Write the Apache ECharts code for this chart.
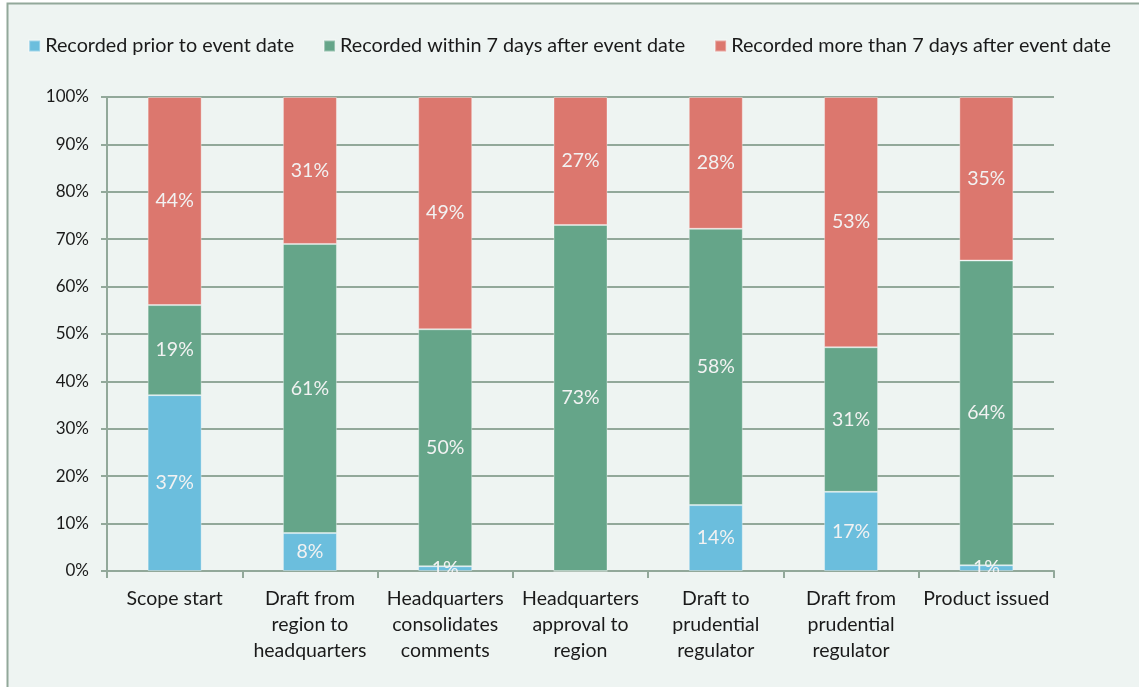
<!DOCTYPE html>
<html>
<head>
<meta charset="utf-8">
<script src="https://cdn.jsdelivr.net/npm/echarts@6/dist/echarts.min.js"></script>
<style>html,body{margin:0;padding:0;background:#ffffff;}#c{width:1139px;height:687px;}</style>
</head>
<body>
<div id="c"></div>
<script>
const categories = ['Scope start','Draft from region to headquarters','Headquarters consolidates comments','Headquarters approval to region','Draft to prudential regulator','Draft from prudential regulator','Product issued'];
const tickLabels = ['Scope start','Draft from\nregion to\nheadquarters','Headquarters\nconsolidates\ncomments','Headquarters\napproval to\nregion','Draft to\nprudential\nregulator','Draft from\nprudential\nregulator','Product issued'];
const seriesNames = ['Recorded prior to event date','Recorded within 7 days after event date','Recorded more than 7 days after event date'];
const priorValues = [37.1, 8.0, 1.0, 0, 13.9, 16.7, 1.2];
const within7Values = [19.0, 61.0, 50.0, 73.0, 58.3, 30.5, 64.3];
const moreThan7Values = [43.9, 31.0, 49.0, 27.0, 27.8, 52.8, 34.5];

const FONT = 'Lato';
const colors = ['#6bbedd','#65a589','#dc776e'];
const chart = echarts.init(document.getElementById('c'));
function mkSeries(name, data, color){
  return {
    name, type:'bar', stack:'total', data, barWidth:54,
    itemStyle:{color, borderColor:'rgba(255,255,255,0.35)', borderWidth:1},
    label:{show:true, position:'inside', color:'#f2f2f2', fontFamily:FONT, fontSize:19.5,
      formatter:p => p.value > 0 ? Math.round(p.value) + '%' : ''},
    emphasis:{disabled:true}
  };
}
chart.setOption({
  animation:false,
  backgroundColor:'#ffffff',
  graphic:[{type:'rect', z:-10, shape:{x:7.5,y:3.5,width:1200,height:720},
    style:{fill:'#eef4f2', stroke:'#92a89a', lineWidth:2}}],
  legend:{top:31, left:'center', itemWidth:11, itemHeight:11, itemGap:29,
    icon:'rect',
    textStyle:{fontFamily:FONT, fontSize:19.8, color:'#1a1a1a'}, data:seriesNames},
  grid:{left:107, right:85, top:97, bottom:116, containLabel:false},
  xAxis:{type:'category', data:categories,
    axisLine:{lineStyle:{color:'#92a89a', width:2}},
    axisTick:{show:true, length:7, alignWithLabel:false, lineStyle:{color:'#92a89a', width:2}},
    axisLabel:{interval:0, margin:15, fontFamily:FONT, fontSize:19.5, color:'#1a1a1a', lineHeight:26,
      formatter:(v, i) => tickLabels[i]}},
  yAxis:{type:'value', min:0, max:100, interval:10,
    axisLine:{show:true, lineStyle:{color:'#92a89a', width:2}},
    axisTick:{show:true, length:6, lineStyle:{color:'#92a89a', width:2}},
    splitLine:{show:true, lineStyle:{color:'#92a89a', width:2}},
    axisLabel:{margin:18, fontFamily:FONT, fontSize:17, color:'#1a1a1a', formatter:v => v + '%'}},
  series:[mkSeries(seriesNames[0], priorValues, colors[0]),
          mkSeries(seriesNames[1], within7Values, colors[1]),
          mkSeries(seriesNames[2], moreThan7Values, colors[2])]
});
</script>
</body>
</html>
